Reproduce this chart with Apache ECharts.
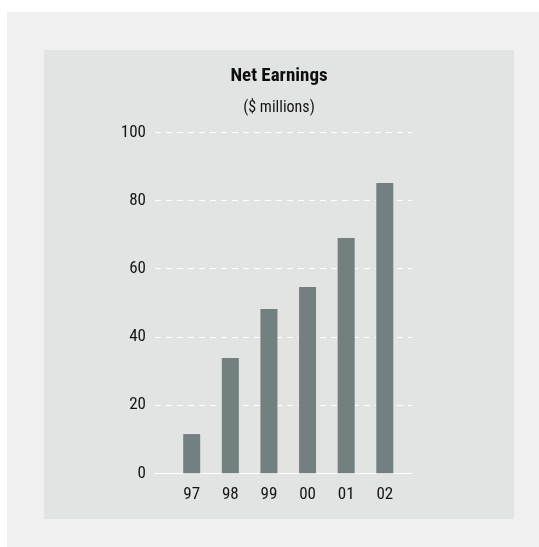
<!DOCTYPE html>
<html>
<head>
<meta charset="utf-8">
<style>
  html { background: #f0f0f0; }
  html, body { margin: 0; padding: 0; }
  #chart { width: 539px; height: 547px; }
</style>
<script src="https://cdn.jsdelivr.net/npm/echarts@6/dist/echarts.min.js"></script>
</head>
<body>
<div id="chart"></div>
<script>
// Net earnings by fiscal year, $ millions
const years = ['97', '98', '99', '00', '01', '02'];
const netEarnings = [11.5, 33.8, 48.2, 54.6, 69.0, 85.1];
const yTicks = [0, 20, 40, 60, 80, 100];

const FONT = "'Roboto Condensed', 'DejaVu Sans Condensed', sans-serif";
const TEXT = '#141414';
const BAR = '#728080';

const chart = echarts.init(document.getElementById('chart'), null, { renderer: 'canvas' });

chart.setOption({
  backgroundColor: '#ffffff',
  animation: false,
  textStyle: { fontFamily: FONT },
  graphic: [
    { type: 'rect', z: -20, silent: true, shape: { x: 7, y: 12, width: 600, height: 600 }, style: { fill: '#f0f0f0' } },
    { type: 'rect', z: -19, silent: true, shape: { x: 44, y: 50, width: 470, height: 469 }, style: { fill: '#e2e3e3' } }
  ],
  title: [
    {
      text: 'Net Earnings',
      left: 279, top: 67, textAlign: 'center', padding: 0,
      textStyle: { fontFamily: FONT, fontSize: 19, fontWeight: 'bold', color: '#0e0e0e' }
    },
    {
      text: '($ millions)',
      left: 279, top: 100, textAlign: 'center', padding: 0,
      textStyle: { fontFamily: FONT, fontSize: 16, fontWeight: 'normal', color: TEXT }
    }
  ],
  grid: [
    // gridlines and value labels
    { left: 155, top: 132.3, width: 257, height: 341, containLabel: false },
    // bars
    { left: 172.4, top: 132.3, width: 231.7, height: 341, containLabel: false }
  ],
  xAxis: [
    {
      gridIndex: 0, type: 'value', min: 0, max: 1,
      axisLine: { show: true, lineStyle: { color: '#ffffff', width: 1 } },
      axisTick: { show: false }, axisLabel: { show: false }, splitLine: { show: false }
    },
    {
      gridIndex: 1, type: 'category', data: years, boundaryGap: true,
      axisLine: { show: false }, axisTick: { show: false },
      axisLabel: { color: TEXT, fontFamily: FONT, fontSize: 17, margin: 13 },
      splitLine: { show: false }
    }
  ],
  yAxis: [
    {
      gridIndex: 0, type: 'value', min: yTicks[0], max: yTicks[yTicks.length - 1], interval: 20,
      axisLine: { show: false }, axisTick: { show: false },
      axisLabel: { color: TEXT, fontFamily: FONT, fontSize: 17, margin: 9 },
      splitLine: { show: true, lineStyle: { color: '#ffffff', width: 1, type: [6, 5] } }
    },
    {
      gridIndex: 1, type: 'value', min: yTicks[0], max: yTicks[yTicks.length - 1], interval: 20,
      show: false, splitLine: { show: false }
    }
  ],
  series: [
    {
      type: 'bar', xAxisIndex: 1, yAxisIndex: 1,
      data: netEarnings, barWidth: 17,
      itemStyle: { color: BAR },
      z: 3
    }
  ]
});
</script>
</body>
</html>
